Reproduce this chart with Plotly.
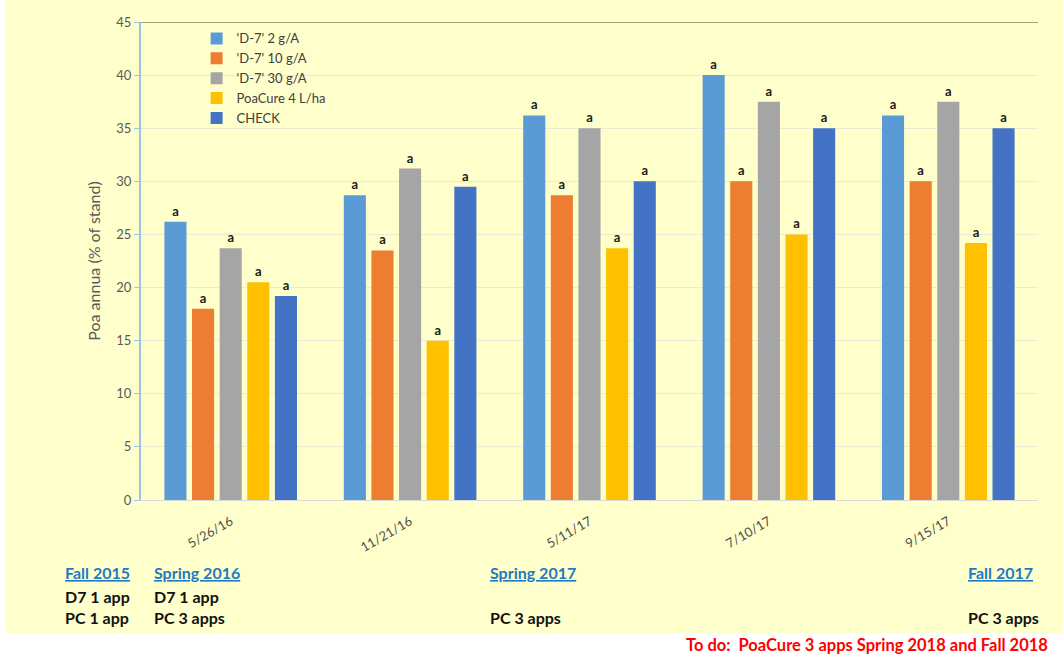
import plotly.graph_objects as go

dates = ["5/26/16", "11/21/16", "5/11/17", "7/10/17", "9/15/17"]
series_names = ["'D-7' 2 g/A", "'D-7' 10 g/A", "'D-7' 30 g/A", "PoaCure 4 L/ha", "CHECK"]
d7_2 = [26.2, 28.7, 36.2, 40.0, 36.2]
d7_10 = [18.0, 23.5, 28.7, 30.0, 30.0]
d7_30 = [23.7, 31.2, 35.0, 37.5, 37.5]
poacure = [20.5, 15.0, 23.7, 25.0, 24.2]
check = [19.2, 29.5, 30.0, 35.0, 35.0]
letters = ["a", "a", "a", "a", "a"]
colors = ["#5B9BD5", "#ED7D31", "#A5A5A5", "#FFC000", "#4472C4"]

values = [d7_2, d7_10, d7_30, poacure, check]

FONT = "Lato"
fig = go.Figure()
for name, vals, col in zip(series_names, values, colors):
    fig.add_trace(go.Bar(
        x=dates, y=vals, name=name,
        marker=dict(color=col, line=dict(color=col, width=0)),
        text=letters, textposition="outside",
        texttemplate="<b>%{text}</b>",
        textfont=dict(family=FONT, size=13, color="#1A1A1A"),
        cliponaxis=False,
    ))

yellow = "#FFFFCC"
fig.update_layout(
    width=1063, height=656,
    margin=dict(l=141, r=25, t=22, b=156),
    paper_bgcolor=yellow,
    plot_bgcolor=yellow,
    barmode="group",
    bargap=0.23,
    bargroupgap=0.2,
    font=dict(family=FONT, color="#595959"),
    showlegend=True,
    legend=dict(
        x=0.062, y=0.997, xanchor="left", yanchor="top",
        bgcolor="rgba(0,0,0,0)",
        font=dict(family=FONT, size=13, color="#404040"),
        itemwidth=30,
        tracegroupgap=0,
    ),
    xaxis=dict(
        tickangle=-30,
        tickfont=dict(family=FONT, size=13, color="#505050"),
        ticklabelstandoff=8,
        showline=True, linecolor="#D9D9D9", linewidth=1,
        showgrid=False, ticks="",
    ),
    yaxis=dict(
        range=[0, 45], dtick=5,
        tickfont=dict(family=FONT, size=13, color="#595959"),
        title=dict(text="Poa annua (% of stand)", font=dict(family=FONT, size=16, color="#595959"), standoff=12),
        showline=True, linecolor="#9DC3E6", linewidth=2,
        ticks="outside", ticklen=5, tickcolor="#9DC3E6",
        showgrid=True, gridcolor="#EAEAD6", gridwidth=1,
        zeroline=False,
    ),
    shapes=[
        dict(type="line", xref="paper", yref="y", x0=0, x1=1, y0=45, y1=45,
             line=dict(color="#A4A47A", width=2)),
        dict(type="rect", xref="paper", yref="paper", x0=-0.2, x1=1.1,
             y0=(500 - 656) / 478 - 0.01, y1=(500 - 633) / 478,
             fillcolor="white", line=dict(width=0), layer="above"),
        dict(type="rect", xref="paper", yref="paper", x0=-0.2, x1=(5 - 141) / 897,
             y0=-0.4, y1=1.1,
             fillcolor="white", line=dict(width=0), layer="above"),
    ],
)

def px_x(p):
    return (p - 141) / 897

def px_y(p):
    return (500 - p) / 478

blue = "#1F7AC4"
black = "#111111"
anns = [
    ("<b><u>Fall 2015</u></b>", 63, 572, blue, "left"),
    ("<b><u>Spring 2016</u></b>", 152, 572, blue, "left"),
    ("<b><u>Spring 2017</u></b>", 488, 572, blue, "left"),
    ("<b><u>Fall 2017</u></b>", 966, 572, blue, "left"),
    ("<b>D7 1 app</b>", 63, 596, black, "left"),
    ("<b>D7 1 app</b>", 152, 596, black, "left"),
    ("<b>PC 1 app</b>", 63, 617, black, "left"),
    ("<b>PC 3 apps</b>", 152, 617, black, "left"),
    ("<b>PC 3 apps</b>", 488, 617, black, "left"),
    ("<b>PC 3 apps</b>", 966, 617, black, "left"),
]
for txt, x, y, col, anc in anns:
    fig.add_annotation(text=txt, xref="paper", yref="paper", x=px_x(x), y=px_y(y),
                       xanchor=anc, yanchor="middle", showarrow=False,
                       font=dict(family=FONT, size=16, color=col))

fig.add_annotation(text="<b>To do:  PoaCure 3 apps Spring 2018 and Fall 2018</b>",
                   xref="paper", yref="paper", x=px_x(1050), y=px_y(645),
                   xanchor="right", yanchor="middle", showarrow=False,
                   font=dict(family=FONT, size=16.5, color="#FF0000"))

fig.write_html("out.html")
